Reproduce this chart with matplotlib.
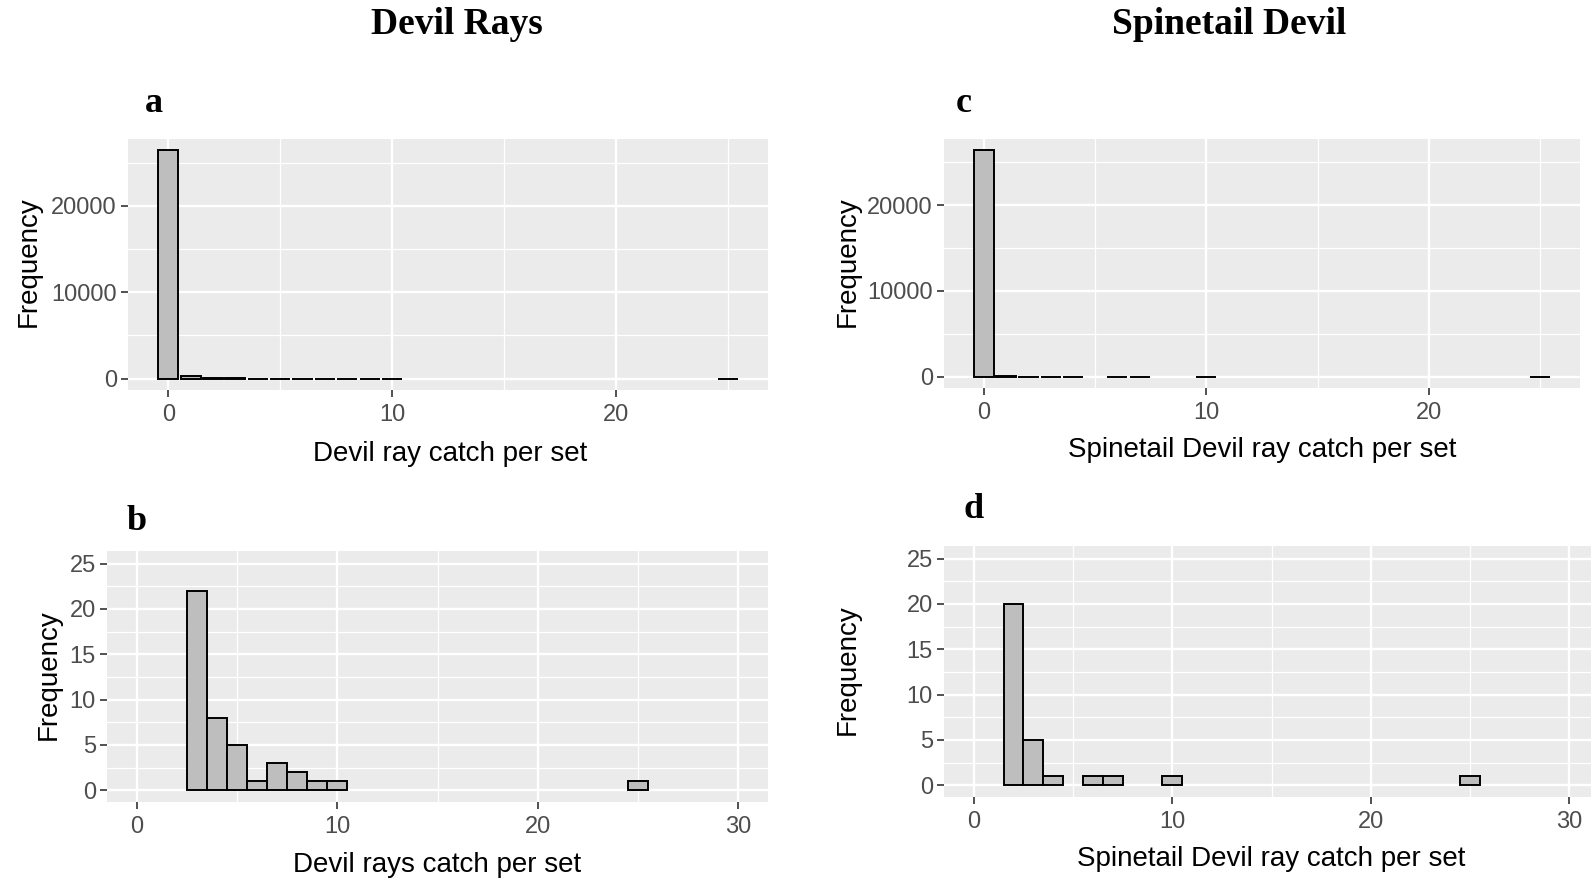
import matplotlib
matplotlib.use('Agg')
import matplotlib.pyplot as plt

# devil rays, all sets (a) and sets with catch > 2 (b)
dr_catch = [0, 1, 2, 3, 4, 5, 6, 7, 8, 9, 10, 25]
dr_freq = [26400, 250, 30, 22, 8, 5, 1, 3, 2, 1, 1, 1]
dr_pos_catch = [3, 4, 5, 6, 7, 8, 9, 10, 25]
dr_pos_freq = [22, 8, 5, 1, 3, 2, 1, 1, 1]

# spinetail devil ray, all sets (c) and sets with catch > 1 (d)
sd_catch = [0, 1, 2, 3, 4, 6, 7, 10, 25]
sd_freq = [26400, 40, 20, 5, 1, 1, 1, 1, 1]
sd_pos_catch = [2, 3, 4, 6, 7, 10, 25]
sd_pos_freq = [20, 5, 1, 1, 1, 1, 1]

W, H = 1591, 882
plt.rcParams['font.family'] = ['Liberation Sans', 'DejaVu Sans']

fig = plt.figure(figsize=(W / 100, H / 100), dpi=100)


def box(left, top, right, bottom):
    # pixel box -> figure fraction rect
    return [left / W, 1 - bottom / H, (right - left) / W, (bottom - top) / H]


def ftext(x, y, s, **kw):
    fig.text(x / W, 1 - y / H, s, ha='center', va='center', **kw)


def style(ax, xlim, ylim, xmaj, xmin, ymaj, ymin):
    ax.set_facecolor('#EBEBEB')
    for sp in ax.spines.values():
        sp.set_visible(False)
    ax.set_xlim(xlim)
    ax.set_ylim(ylim)
    ax.set_xticks(xmaj)
    ax.set_xticks(xmin, minor=True)
    ax.set_yticks(ymaj)
    ax.set_yticks(ymin, minor=True)
    ax.grid(which='major', color='white', lw=1.7)
    ax.grid(which='minor', color='white', lw=0.9)
    ax.set_axisbelow(True)
    ax.tick_params(which='minor', length=0)
    ax.tick_params(which='major', length=5, width=1.2, color='#333333',
                   labelcolor='#4D4D4D', labelsize=17)
    ax.tick_params(axis='x', pad=5)
    ax.tick_params(axis='y', pad=3)


bar_kw = dict(color='#BEBEBE', edgecolor='black', linewidth=1.4)

# a
ax = fig.add_axes(box(128, 139, 768, 390))
ax.bar(dr_catch, dr_freq, width=0.9, **bar_kw)
style(ax, (-1.8, 26.8), (-1320, 27720), [0, 10, 20], [5, 15, 25],
      [0, 10000, 20000], [5000, 15000, 25000])

# c
ax = fig.add_axes(box(944, 139, 1580, 388))
ax.bar(sd_catch, sd_freq, width=0.9, **bar_kw)
style(ax, (-1.8, 26.8), (-1320, 27720), [0, 10, 20], [5, 15, 25],
      [0, 10000, 20000], [5000, 15000, 25000])

# b
ax = fig.add_axes(box(107, 551, 768, 802))
ax.bar(dr_pos_catch, dr_pos_freq, width=1.0, **bar_kw)
style(ax, (-1.5, 31.5), (-1.3, 26.4), [0, 10, 20, 30], [5, 15, 25],
      [0, 5, 10, 15, 20, 25], [2.5, 7.5, 12.5, 17.5, 22.5])

# d (runs off the right edge like the original)
ax = fig.add_axes(box(944, 546, 1599, 797))
ax.bar(sd_pos_catch, sd_pos_freq, width=1.0, **bar_kw)
style(ax, (-1.5, 31.5), (-1.3, 26.4), [0, 10, 20, 30], [5, 15, 25],
      [0, 5, 10, 15, 20, 25], [2.5, 7.5, 12.5, 17.5, 22.5])

# axis titles
lab = dict(size=20, color='black')
ftext(450, 454, 'Devil ray catch per set', **lab)
ftext(1262, 450, 'Spinetail Devil ray catch per set', **lab)
ftext(437, 865, 'Devil rays catch per set', **lab)
ftext(1271, 859, 'Spinetail Devil ray catch per set', **lab)
ftext(29, 262, 'Frequency', rotation=90, **lab)
ftext(848, 262, 'Frequency', rotation=90, **lab)
ftext(49, 675, 'Frequency', rotation=90, **lab)
ftext(848, 670, 'Frequency', rotation=90, **lab)

# column headers and panel letters
serif = dict(family='Liberation Serif', weight='bold', color='black')
ftext(457, 25, 'Devil Rays', size=27, **serif)
ftext(1229, 25, 'Spinetail Devil', size=27, **serif)
ftext(154, 103, 'a', size=26, **serif)
ftext(964, 103, 'c', size=26, **serif)
ftext(137, 522, 'b', size=26, **serif)
ftext(974, 509, 'd', size=26, **serif)

fig.savefig('out.png', dpi=100)
